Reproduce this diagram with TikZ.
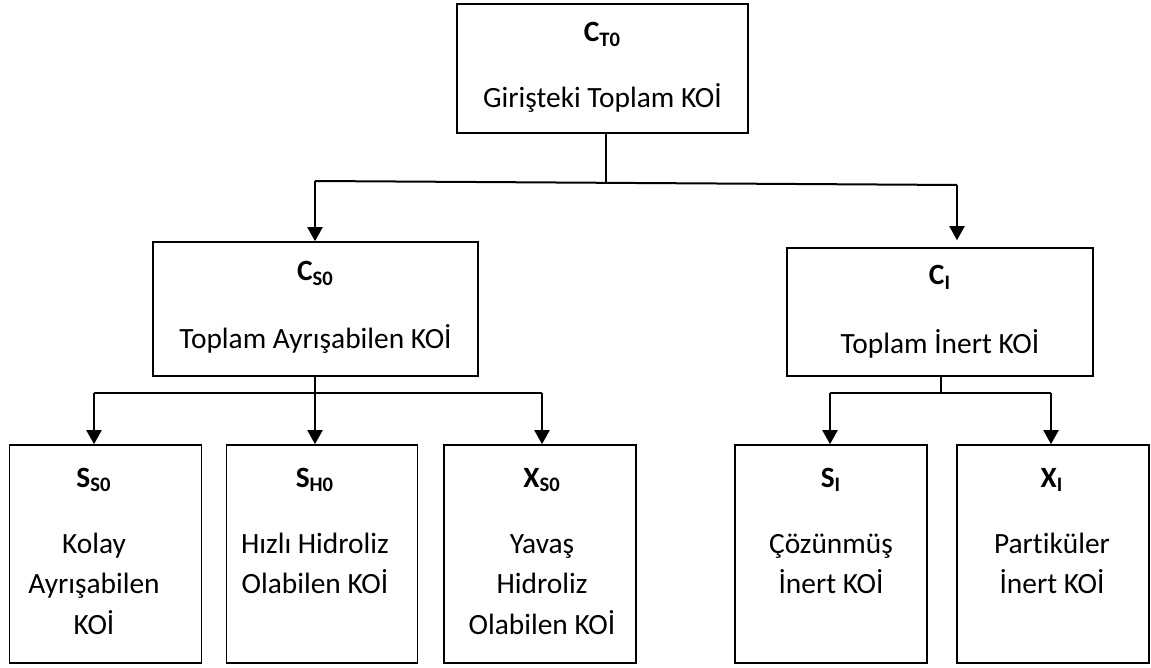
\documentclass[tikz,border=0pt]{standalone}
\usepackage{fontspec}
\setmainfont{Carlito}[Ligatures={NoCommon}]
\usetikzlibrary{arrows.meta}

\newcommand{\sym}[2]{\textbf{#1}\textsubscript{\textbf{#2}}}

\begin{document}
\begin{tikzpicture}[x=0.5pt,y=-0.5pt,
  box/.style={draw=black,line width=0.8pt,rectangle,inner sep=0pt},
  txt/.style={anchor=base,inner sep=0pt,font=\fontsize{14.7}{17}\selectfont},
  link/.style={draw=black,line width=1pt},
  arr/.style={link,-{Triangle[length=7pt,width=7.5pt]}}]
\useasboundingbox (0,0) rectangle (1151,668);

% boxes
\node[box,minimum width=145.5pt,minimum height=64.5pt] (top) at (602.5,68.5) {};
\node[box,minimum width=162.5pt,minimum height=67pt] (cs) at (315.5,309) {};
\node[box,minimum width=153pt,minimum height=64pt] (ci) at (940,312) {};
\node[box,minimum width=96pt,minimum height=109pt] (ss) at (105.5,554) {};
\node[box,minimum width=95.5pt,minimum height=109pt] (sh) at (322,554) {};
\node[box,minimum width=96pt,minimum height=109pt] (xs) at (540,554) {};
\node[box,minimum width=96pt,minimum height=109pt] (si) at (831,554) {};
\node[box,minimum width=96pt,minimum height=109pt] (xi) at (1053,554) {};

% texts
\node[txt] (topA) at (602.5,42) {\sym{C}{T0}};
\node[txt] (topB) at (602.5,108) {Girişteki Toplam KOİ};
\node[txt] (csA) at (315.5,281) {\sym{C}{S0}};
\node[txt] (csB) at (315.5,348) {Toplam Ayrışabilen KOİ};
\node[txt] (ciA) at (940,285) {\sym{C}{I}};
\node[txt] (ciB) at (940,353) {Toplam İnert KOİ};

\node[txt] (ssA) at (94,487) {\sym{S}{S0}};
\node[txt] (ssB) at (94,553) {Kolay};
\node[txt] (ssC) at (94,593) {Ayrışabilen};
\node[txt] (ssD) at (94,634) {KOİ};

\node[txt] (shA) at (315,487) {\sym{S}{H0}};
\node[txt] (shB) at (315,553) {Hızlı Hidroliz};
\node[txt] (shC) at (315,593) {Olabilen KOİ};

\node[txt] (xsA) at (542,487) {\sym{X}{S0}};
\node[txt] (xsB) at (542,553) {Yavaş};
\node[txt] (xsC) at (542,593) {Hidroliz};
\node[txt] (xsD) at (542,634) {Olabilen KOİ};

\node[txt] (siA) at (831,487) {\sym{S}{I}};
\node[txt] (siB) at (831,553) {Çözünmüş};
\node[txt] (siC) at (831,593) {İnert KOİ};

\node[txt] (xiA) at (1052,487) {\sym{X}{I}};
\node[txt] (xiB) at (1052,553) {Partiküler};
\node[txt] (xiC) at (1052,593) {İnert KOİ};

% junction points
\coordinate (jT) at (606,182.5);
\coordinate (jL) at (315,181);
\coordinate (jR) at (957,185);
\coordinate (kM) at (315,393);
\coordinate (kL) at (94,393);
\coordinate (kR) at (542,393);
\coordinate (mM) at (941,393);
\coordinate (mL) at (830,393);
\coordinate (mR) at (1051,393);

% first split
\draw[link] (top.south -| jT) -- (jT);
\draw[link] (jL) -- (jR);
\draw[arr] (jL) -- (cs.north -| jL);
\draw[arr,shorten >=3.5pt] (jR) -- (ci.north -| jR);

% degradable fractions
\draw[link] (cs.south -| kM) -- (kM);
\draw[link] (kL) -- (kR);
\draw[arr] (kL) -- (ss.north -| kL);
\draw[arr] (kM) -- (sh.north -| kM);
\draw[arr] (kR) -- (xs.north -| kR);

% inert fractions
\draw[link] (ci.south -| mM) -- (mM);
\draw[link] (mL) -- (mR);
\draw[arr] (mL) -- (si.north -| mL);
\draw[arr] (mR) -- (xi.north -| mR);
\end{tikzpicture}
\end{document}
